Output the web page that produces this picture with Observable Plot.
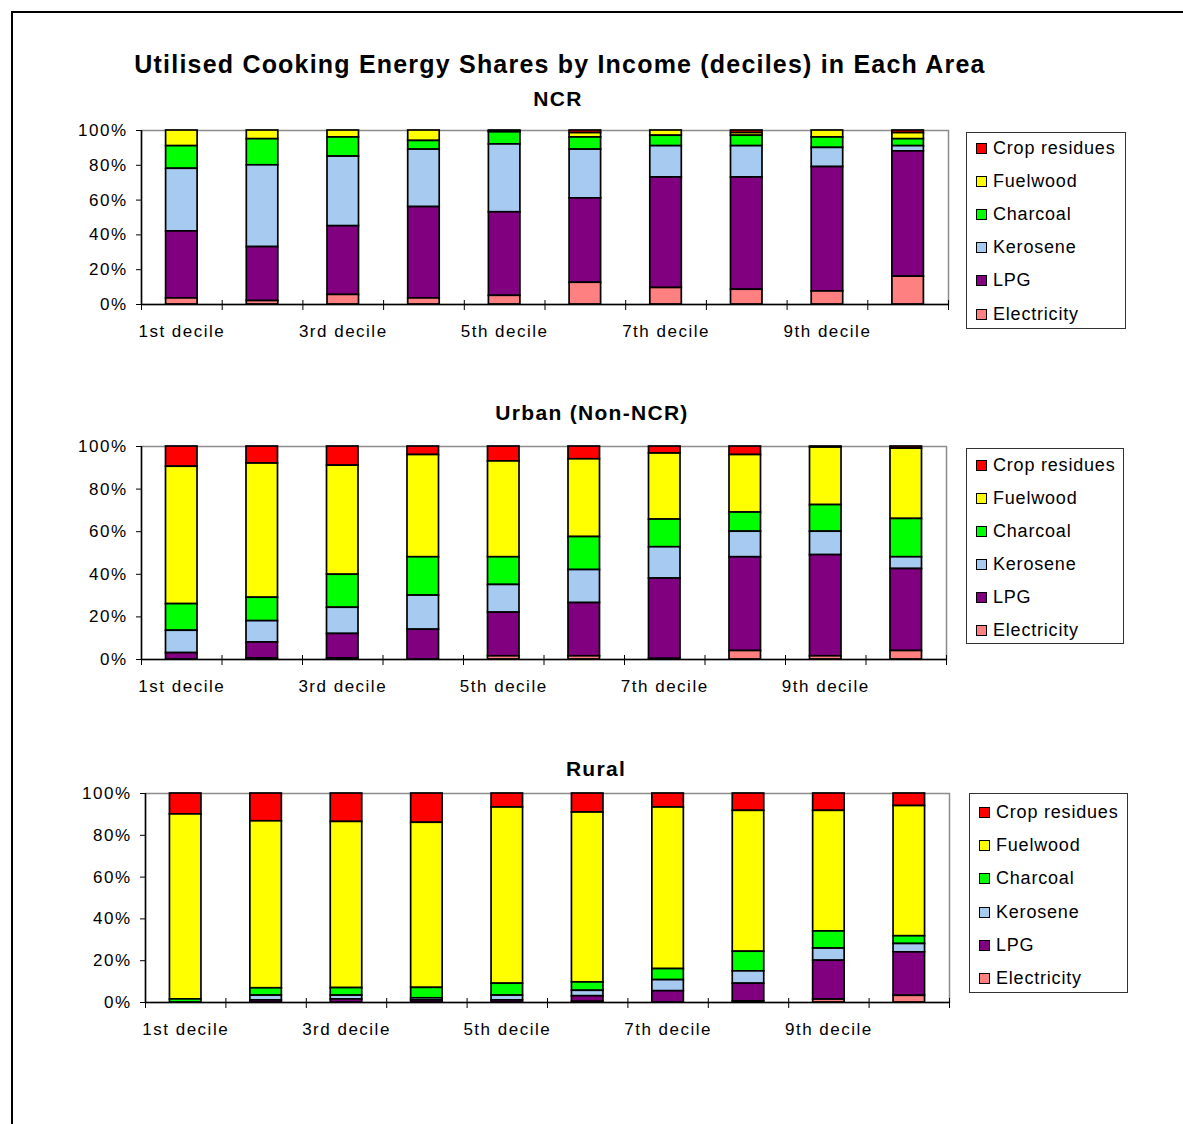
<!DOCTYPE html>
<html>
<head>
<meta charset="utf-8">
<script src="https://cdn.jsdelivr.net/npm/d3@7"></script>
<script src="https://cdn.jsdelivr.net/npm/@observablehq/plot@0.6"></script>
<style>
  html, body { margin: 0; padding: 0; background: #fff; overflow: hidden; }
  #page { position: relative; width: 1183px; height: 1124px; overflow: hidden; font-family: "Liberation Sans", Arial, sans-serif; color: #000; }
  .border { position: absolute; left: 11px; top: 11px; width: 1400px; height: 1400px; border: 2.5px solid #000; }
  .heading { position: absolute; left: 0; text-align: center; font-weight: bold; line-height: 30px; white-space: nowrap; }
  .panel { position: absolute; left: 0; }
  .panel svg text { letter-spacing: 1.5px; }
  .legend { position: absolute; border: 1px solid #333; background: #fff; box-sizing: border-box; }
  .entry { position: absolute; left: 9px; height: 20px; line-height: 20px; font-size: 18px; letter-spacing: 0.8px; white-space: nowrap; }
  .swatch { display: inline-block; width: 9px; height: 9px; border: 1.5px solid #000; margin-right: 6px; vertical-align: 0px; }
</style>
</head>
<body>
<div id="page">
  <div class="border"></div>
</div>
<script>
// Income deciles (categories on the x axis)
const deciles = ["1st decile", "2nd decile", "3rd decile", "4th decile", "5th decile",
                 "6th decile", "7th decile", "8th decile", "9th decile", "10th decile"];

// Fuels as listed in the legend (top of the stack first) and their fills
const fuels = ["Crop residues", "Fuelwood", "Charcoal", "Kerosene", "LPG", "Electricity"];
const fuelColors = ["#ff0000", "#ffff00", "#00ff00", "#a6caf0", "#800080", "#ff8080"];

// NCR shares (%) by decile
const ncrCrop        = [0, 0, 0, 0, 0.5, 1.5, 0, 1.5, 0, 1.5];
const ncrFuelwood    = [9, 5, 4, 6, 0.5, 2.5, 3, 1.5, 4, 3.5];
const ncrCharcoal    = [13, 15, 11, 5, 7, 7, 6, 6, 6, 4];
const ncrKerosene    = [36, 47, 40, 33, 39, 28, 18, 18, 11, 3];
const ncrLPG         = [38.5, 31, 39.5, 52.5, 48, 48.5, 63.5, 64.5, 71.5, 72];
const ncrElectricity = [3.5, 2, 5.5, 3.5, 5, 12.5, 9.5, 8.5, 7.5, 16];

// Urban (Non-NCR) shares (%) by decile
const urbanCrop        = [9.5, 8, 9, 4, 7, 6, 3.3, 4, 0.5, 1];
const urbanFuelwood    = [64.5, 63, 51.2, 48, 45, 36.5, 31, 27, 27, 33];
const urbanCharcoal    = [12.5, 11, 15.5, 18, 13, 15.5, 13, 9, 12.5, 18];
const urbanKerosene    = [10.5, 10, 12.3, 16, 13, 15.5, 14.7, 12, 11, 5.5];
const urbanLPG         = [3, 7.5, 11.5, 14, 20.5, 25, 37.7, 44, 47.5, 38.5];
const urbanElectricity = [0, 0.5, 0.5, 0, 1.5, 1.5, 0.3, 4, 1.5, 4];

// Rural shares (%) by decile
const ruralCrop        = [10, 13.3, 13.6, 14, 6.7, 9.1, 6.7, 8.3, 8.3, 6];
const ruralFuelwood    = [88.5, 79.9, 79.5, 79, 84.3, 81.3, 77.3, 67.4, 57.7, 62.3];
const ruralCharcoal    = [1.5, 3.5, 3.6, 5, 5.7, 4, 5.3, 9.4, 8.2, 3.7];
const ruralKerosene    = [0, 2.3, 1.8, 1, 2.3, 2.6, 5.3, 5.9, 5.8, 4];
const ruralLPG         = [0, 1, 1.5, 1, 1, 2.7, 5.4, 8.5, 18.6, 20.8];
const ruralElectricity = [0, 0, 0, 0, 0, 0.3, 0, 0.5, 1.4, 3.2];

// Long-format rows for one area: one row per decile and fuel
function toRows(series) {
  const rows = [];
  fuels.forEach((fuel, f) => {
    series[f].forEach((value, slot) => rows.push({slot, decile: deciles[slot], fuel, value}));
  });
  return rows;
}

const areas = [
  {name: "NCR", rows: toRows([ncrCrop, ncrFuelwood, ncrCharcoal, ncrKerosene, ncrLPG, ncrElectricity]),
   title: {top: 84, center: 558}, svgTop: 110, left: 141, right: 948, plotH: 174,
   legend: {left: 966, top: 132, width: 160, height: 197, first: 15, step: 33.1}},
  {name: "Urban (Non-NCR)", rows: toRows([urbanCrop, urbanFuelwood, urbanCharcoal, urbanKerosene, urbanLPG, urbanElectricity]),
   title: {top: 398, center: 592}, svgTop: 426, left: 141, right: 946, plotH: 213,
   legend: {left: 966, top: 448, width: 158, height: 196, first: 16, step: 33.0}},
  {name: "Rural", rows: toRows([ruralCrop, ruralFuelwood, ruralCharcoal, ruralKerosene, ruralLPG, ruralElectricity]),
   title: {top: 754, center: 596}, svgTop: 773, left: 145, right: 949, plotH: 209,
   legend: {left: 969, top: 793, width: 159, height: 200, first: 18, step: 33.2}}
];

const page = document.getElementById("page");

// Main title
const title = document.createElement("div");
title.className = "heading";
title.style.cssText = "top:49px;width:1120px;font-size:25px;letter-spacing:1.2px;";
title.textContent = "Utilised Cooking Energy Shares by Income (deciles) in Each Area";
page.appendChild(title);

// Stack order from the bottom up
const stackOrder = fuels.slice().reverse();

for (const area of areas) {
  const head = document.createElement("div");
  head.className = "heading";
  head.style.cssText = `top:${area.title.top}px;width:${area.title.center * 2}px;font-size:21px;letter-spacing:1.3px;`;
  head.textContent = area.name;
  page.appendChild(head);

  const marginTop = 20, marginBottom = 40;
  const width = area.right + 4;
  const slotW = (area.right - area.left) / deciles.length;
  const inset = (slotW - 31.5) / 2;

  const chart = Plot.plot({
    width,
    height: marginTop + area.plotH + marginBottom,
    marginLeft: area.left,
    marginRight: 4,
    marginTop,
    marginBottom,
    style: {fontFamily: "'Liberation Sans', Arial, sans-serif", fontSize: "17px", color: "#000", background: "transparent", overflow: "visible"},
    x: {domain: [0, deciles.length]},
    y: {domain: [0, 1]},
    color: {domain: fuels, range: fuelColors},
    marks: [
      Plot.frame({stroke: "#8c8c8c", strokeWidth: 1.5}),
      Plot.rectY(area.rows, Plot.stackY({
        offset: "normalize",
        order: stackOrder,
        x1: "slot",
        x2: d => d.slot + 1,
        y: "value",
        z: "fuel",
        fill: "fuel",
        stroke: "#000",
        strokeWidth: 1.7,
        insetLeft: inset,
        insetRight: inset
      })),
      Plot.ruleY([0], {stroke: "#000", strokeWidth: 1.5}),
      Plot.ruleX([0], {stroke: "#000", strokeWidth: 1.5}),
      Plot.axisY({ticks: d3.range(0, 1.01, 0.2), tickFormat: d3.format(".0%"), tickSize: 5, tickPadding: 9,
                  label: null, fontSize: 17}),
      Plot.axisX({ticks: d3.range(0, deciles.length + 1), tickSize: 10, dy: -4, tickFormat: () => "", label: null}),
      Plot.axisX({ticks: d3.range(0.5, deciles.length, 2), tickSize: 0, tickPadding: 20,
                  tickFormat: d => deciles[Math.floor(d)], label: null, fontSize: 17})
    ]
  });

  const holder = document.createElement("div");
  holder.className = "panel";
  holder.style.top = area.svgTop + "px";
  holder.appendChild(chart);
  page.appendChild(holder);

  // Legend box
  const lg = area.legend;
  const box = document.createElement("div");
  box.className = "legend";
  box.style.cssText = `left:${lg.left}px;top:${lg.top}px;width:${lg.width}px;height:${lg.height}px;`;
  fuels.forEach((fuel, i) => {
    const entry = document.createElement("div");
    entry.className = "entry";
    entry.style.top = (lg.first + i * lg.step - 10) + "px";
    const sw = document.createElement("span");
    sw.className = "swatch";
    sw.style.background = fuelColors[i];
    entry.appendChild(sw);
    entry.appendChild(document.createTextNode(fuel));
    box.appendChild(entry);
  });
  page.appendChild(box);
}
</script>
</body>
</html>
